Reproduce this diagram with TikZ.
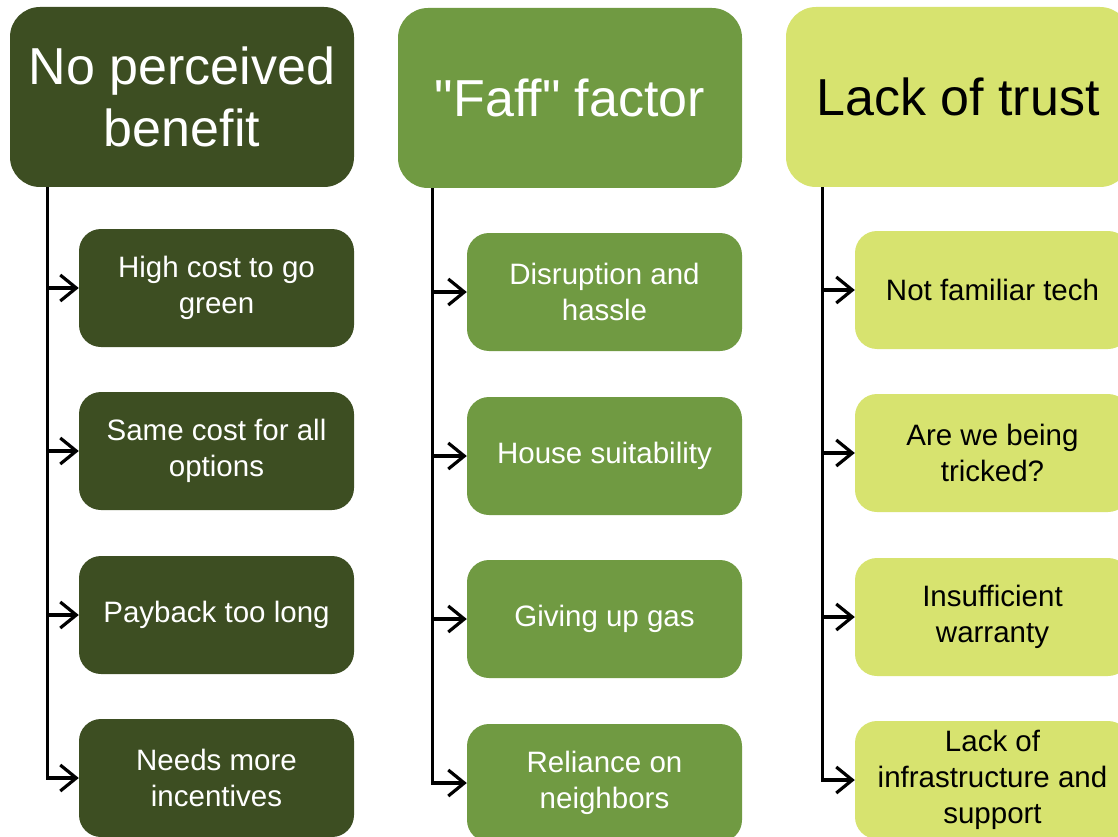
\documentclass[tikz,border=0pt]{standalone}
\usepackage{fontspec}
\setmainfont{Liberation Sans}
\usetikzlibrary{positioning}
\usetikzlibrary{arrows.meta}

\definecolor{darkgreen}{RGB}{61,78,34}
\definecolor{midgreen}{RGB}{112,154,66}
\definecolor{limegreen}{RGB}{215,227,111}

\begin{document}
\begin{tikzpicture}[x=1pt,y=-1pt,
	head/.style={rounded corners=30pt,minimum width=344pt,minimum height=180pt,inner sep=0pt,align=center,font=\fontsize{52}{62}\selectfont},
	item/.style={rounded corners=22pt,minimum width=275pt,minimum height=118pt,inner sep=0pt,align=center,font=\fontsize{29.5}{36}\selectfont},
	branch/.style={draw=black,line width=3.2pt,-{Straight Barb[length=16pt,width=26pt]}}]
	\useasboundingbox (0,0) rectangle (1118,837);
	\clip (0,0) rectangle (1118,837);
	% first column
	\node[head,fill=darkgreen,text=white] (benefit) at (182,97) {No perceived\\benefit};
	\node[item,fill=darkgreen,text=white] (cost) at (216.5,288) {High cost to go\\green};
	\node[item,fill=darkgreen,text=white] (same) at (216.5,451) {Same cost for all\\options};
	\node[item,fill=darkgreen,text=white] (payback) at (216.5,615) {Payback too long};
	\node[item,fill=darkgreen,text=white] (incent) at (216.5,778) {Needs more\\incentives};
	% second column
	\node[head,fill=midgreen,text=white] (faff) at (570,98) {\textquotedbl Faff\textquotedbl{} factor};
	\node[item,fill=midgreen,text=white] (hassle) at (604.5,292) {Disruption and\\hassle};
	\node[item,fill=midgreen,text=white] (house) at (604.5,456) {House suitability};
	\node[item,fill=midgreen,text=white] (gas) at (604.5,619) {Giving up gas};
	\node[item,fill=midgreen,text=white] (neigh) at (604.5,783) {Reliance on\\neighbors};
	% third column
	\node[head,fill=limegreen] (trust) at (958,97) {Lack of trust};
	\node[item,fill=limegreen] (tech) at (992.5,290) {Not familiar tech};
	\node[item,fill=limegreen] (tricked) at (992.5,453) {Are we being\\tricked?};
	\node[item,fill=limegreen] (warranty) at (992.5,617) {Insufficient\\warranty};
	\node[item,fill=limegreen] (infra) at (992.5,780) {Lack of\\infrastructure and\\support};
	% connectors
	\draw[branch] ([xshift=38pt]benefit.south west) |- (cost.west);
	\draw[branch] ([xshift=38pt]benefit.south west) |- (same.west);
	\draw[branch] ([xshift=38pt]benefit.south west) |- (payback.west);
	\draw[branch] ([xshift=38pt]benefit.south west) |- (incent.west);
	\draw[branch] ([xshift=35pt]faff.south west) |- (hassle.west);
	\draw[branch] ([xshift=35pt]faff.south west) |- (house.west);
	\draw[branch] ([xshift=35pt]faff.south west) |- (gas.west);
	\draw[branch] ([xshift=35pt]faff.south west) |- (neigh.west);
	\draw[branch] ([xshift=37pt]trust.south west) |- (tech.west);
	\draw[branch] ([xshift=37pt]trust.south west) |- (tricked.west);
	\draw[branch] ([xshift=37pt]trust.south west) |- (warranty.west);
	\draw[branch] ([xshift=37pt]trust.south west) |- (infra.west);
\end{tikzpicture}
\end{document}
